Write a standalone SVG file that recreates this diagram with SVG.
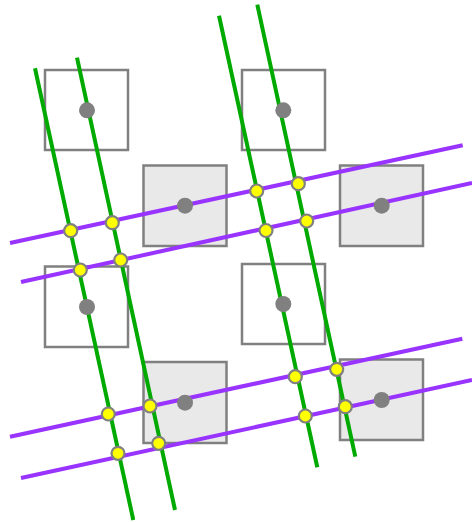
<svg xmlns="http://www.w3.org/2000/svg" width="472" height="522" viewBox="0 0 472 522">
<style>
.sq{fill:#ffffff;stroke:#808080;stroke-width:2.5}
.sq.f{fill:#e9e9e9}
.g{stroke:#00aa00;stroke-width:4;fill:none}
.p{stroke:#9933ff;stroke-width:4;fill:none}
.c{fill:#808080}
.y{fill:#ffff00;stroke:#808080;stroke-width:2.2}
</style>
<rect width="472" height="522" fill="#ffffff"/>
<g id="squares">
<g id="sq1"><rect class="sq" x="45" y="70" width="83" height="80"/></g>
<g id="sq2"><rect class="sq" x="242" y="70" width="83" height="80"/></g>
<g id="sq3"><rect class="sq f" x="143.5" y="165.5" width="83" height="80.5"/></g>
<g id="sq4"><rect class="sq f" x="340" y="165.5" width="83" height="80.5"/></g>
<g id="sq5"><rect class="sq" x="45" y="266.5" width="83" height="80.5"/></g>
<g id="sq6"><rect class="sq" x="242" y="264" width="83" height="80"/></g>
<g id="sq7"><rect class="sq f" x="143.5" y="362" width="83" height="81"/></g>
<g id="sq8"><rect class="sq f" x="340" y="359.5" width="83" height="80.5"/></g>
</g>
<g id="connectors">
<line class="g" x1="35" y1="68.3" x2="133.3" y2="520"/>
<line class="g" x1="77" y1="57.7" x2="175" y2="510"/>
<line class="g" x1="219" y1="15.7" x2="317.3" y2="467.3"/>
<line class="g" x1="257.3" y1="4.7" x2="355.3" y2="456.7"/>
<line class="p" x1="10" y1="243" x2="462.7" y2="145.3"/>
<line class="p" x1="21" y1="282" x2="472" y2="183"/>
<line class="p" x1="10" y1="436.7" x2="462.3" y2="338.7"/>
<line class="p" x1="21" y1="478" x2="472" y2="380"/>
</g>
<g id="centers">
<circle class="c" cx="87" cy="110.3" r="8"/>
<circle class="c" cx="283.3" cy="110.3" r="8"/>
<circle class="c" cx="185" cy="205.7" r="8"/>
<circle class="c" cx="381.7" cy="205.7" r="8"/>
<circle class="c" cx="87" cy="307" r="8"/>
<circle class="c" cx="283.3" cy="304" r="8"/>
<circle class="c" cx="185" cy="402.7" r="8"/>
<circle class="c" cx="381.7" cy="400" r="8"/>
</g>
<g id="intersections">
<circle class="y" cx="70.7" cy="230.7" r="6.5"/>
<circle class="y" cx="112.3" cy="222.7" r="6.5"/>
<circle class="y" cx="80.3" cy="270" r="6.5"/>
<circle class="y" cx="120.7" cy="260" r="6.5"/>
<circle class="y" cx="256.7" cy="191" r="6.5"/>
<circle class="y" cx="298.3" cy="183.7" r="6.5"/>
<circle class="y" cx="266" cy="230.5" r="6.5"/>
<circle class="y" cx="306.7" cy="221" r="6.5"/>
<circle class="y" cx="108.3" cy="414" r="6.5"/>
<circle class="y" cx="150" cy="406" r="6.5"/>
<circle class="y" cx="118" cy="453.3" r="6.5"/>
<circle class="y" cx="158.7" cy="443.3" r="6.5"/>
<circle class="y" cx="295.3" cy="376.7" r="6.5"/>
<circle class="y" cx="336.7" cy="369.3" r="6.5"/>
<circle class="y" cx="305.3" cy="416" r="6.5"/>
<circle class="y" cx="345.3" cy="406.7" r="6.5"/>
</g>
</svg>
